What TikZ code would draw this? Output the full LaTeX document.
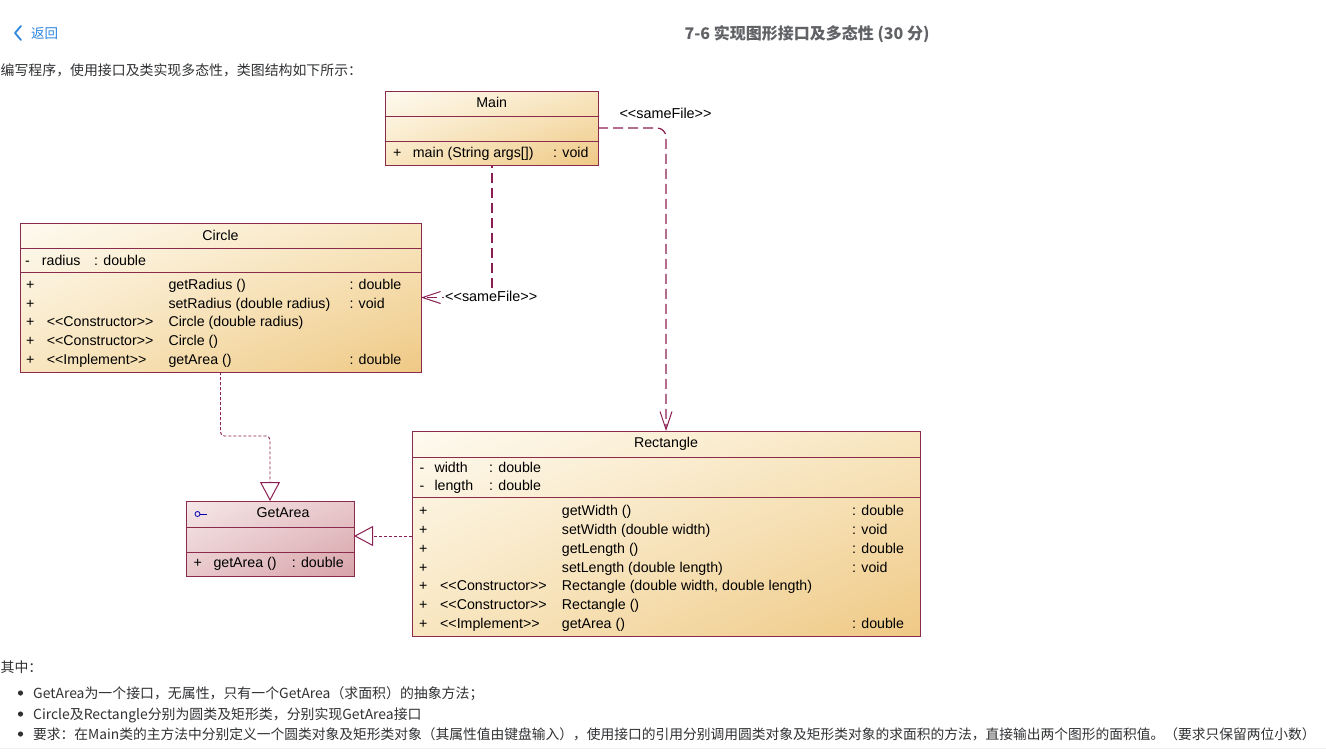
\documentclass[tikz,border=0pt]{standalone}
\usepackage{fontspec}
\setmainfont{Liberation Sans}
\newfontfamily\cjk{Noto Sans CJK SC}
\usetikzlibrary{arrows.meta,shadings}
\newcommand\stL{<{}<}
\newcommand\stR{>{}>}
\definecolor{umlborder}{HTML}{8A2B4B}
\definecolor{umlline}{HTML}{8B1F52}
\definecolor{creamA}{HTML}{FEFAF0}
\definecolor{creamM}{HTML}{F8E6C0}
\definecolor{tanB}{HTML}{EFC985}
\definecolor{pinkA}{HTML}{F5E7E8}
\definecolor{pinkM}{HTML}{E8C8CB}
\definecolor{pinkB}{HTML}{D7A3A9}
\definecolor{linkblue}{HTML}{2E86DE}
\definecolor{titlegray}{HTML}{606266}
\definecolor{bodytext}{HTML}{303133}
\tikzset{
  x=1pt, y=-1pt,
  classbox/.style={rectangle, draw=umlborder, line width=0.9pt, inner sep=0pt, outer sep=0pt,
     upper left=creamA, upper right=creamM, lower left=creamM, lower right=tanB},
  ifacebox/.style={rectangle, draw=umlborder, line width=0.9pt, inner sep=0pt, outer sep=0pt,
     upper left=pinkA, upper right=pinkM, lower left=pinkM, lower right=pinkB},
  sep/.style={draw=umlborder, line width=0.8pt},
  txt/.style={anchor=base west, inner sep=0pt, font=\fontsize{14.2}{16}\selectfont, text=black},
  ctxt/.style={anchor=base, inner sep=0pt, font=\fontsize{14.2}{16}\selectfont, text=black},
  samefile/.style={draw=umlline, line width=1.2pt, dash pattern=on 10pt off 5pt,
     -{Straight Barb[length=18pt,width=12pt,line width=1pt]}},
  realize/.style={draw=umlline, line width=0.9pt, dash pattern=on 3pt off 2pt,
     -{Triangle[open,length=19pt,width=20pt,line width=1pt,fill=white]}},
  cjktxt/.style={anchor=base west, inner sep=0pt, font=\cjk\fontsize{13.9}{16}\selectfont, text=bodytext},
}
\begin{document}
\begin{tikzpicture}
\useasboundingbox[fill=white] (0,0) rectangle (1326,753);

% ---------- page header ----------
\draw[linkblue, line width=1.8pt, line cap=round, line join=round] (21,26) -- (15,33) -- (21,40);
\node[anchor=base west, inner sep=0pt, font=\cjk\fontsize{13.5}{16}\selectfont, text=linkblue] (back) at (31,38) {返回};
\node[anchor=base, inner sep=0pt, font=\cjk\bfseries\fontsize{16}{18}\selectfont, text=titlegray] (title) at (807,39) {7-6 实现图形接口及多态性 (30 分)};
\node[cjktxt] (intro) at (0.5,75) {编写程序，使用接口及类实现多态性，类图结构如下所示：};

% ---------- Main ----------
\node[classbox, minimum width=213pt, minimum height=74pt] (main) at (491.5,128) {};
\draw[sep] (385,116) -- (598,116);
\draw[sep] (385,141) -- (598,141);
\node[ctxt] (mainT) at (491.7,107.7) {Main};
\node[txt] (m1a) at (393,157.7) {+};
\node[txt] (m1b) at (412.7,157.7) {main (String args[])};
\node[txt] (m1c) at (553,157.7) {: void};

% ---------- Circle ----------
\node[classbox, minimum width=401pt, minimum height=149pt] (circle) at (220.5,297.5) {};
\draw[sep] (20,248) -- (421,248);
\draw[sep] (20,272) -- (421,272);
\node[ctxt] (cT) at (220.5,240.7) {Circle};
\node[txt] (ca1) at (25,265) {-};
\node[txt] (ca2) at (41.7,265) {radius};
\node[txt] (ca3) at (94,265) {: double};
\foreach \yy/\st/\nm/\rt [count=\i] in {
  289/{}/{getRadius ()}/{: double},
  308/{}/{setRadius (double radius)}/{: void},
  326.8/{\stL Constructor\stR}/{Circle (double radius)}/{},
  345.6/{\stL Constructor\stR}/{Circle ()}/{},
  364.4/{\stL Implement\stR}/{getArea ()}/{: double}}{
  \node[txt] (cp\i) at (26,\yy) {+};
  \node[txt] (cs\i) at (46.7,\yy) {\st};
  \node[txt] (cn\i) at (168.3,\yy) {\nm};
  \node[txt] (cr\i) at (349.3,\yy) {\rt};
}

% ---------- GetArea ----------
\node[ifacebox, minimum width=168pt, minimum height=75pt] (getarea) at (270,538.5) {};
\draw[sep] (186,527) -- (354,527);
\draw[sep] (186,552) -- (354,552);
\node[draw=blue!70!black, circle, line width=0.8pt, minimum size=5pt, inner sep=0pt] (icon) at (197.5,514) {};
\draw[blue!70!black, line width=0.8pt] (icon.east) -- ++(7,0);
\node[ctxt] (gT) at (283,517.3) {GetArea};
\node[txt] (g1a) at (193.3,567.7) {+};
\node[txt] (g1b) at (213.3,567.7) {getArea ()};
\node[txt] (g1c) at (291.7,567.7) {: double};

% ---------- Rectangle ----------
\node[classbox, minimum width=508pt, minimum height=205pt] (rect) at (666,533.5) {};
\draw[sep] (412,457) -- (920,457);
\draw[sep] (412,497) -- (920,497);
\node[ctxt] (rT) at (666,447.7) {Rectangle};
\node[txt] (ra1) at (419.5,472) {-};
\node[txt] (ra2) at (434.3,472) {width};
\node[txt] (ra3) at (489,472) {: double};
\node[txt] (rb1) at (419.5,490.6) {-};
\node[txt] (rb2) at (434.3,490.6) {length};
\node[txt] (rb3) at (489,490.6) {: double};
\foreach \yy/\st/\nm/\rt [count=\i] in {
  515.5/{}/{getWidth ()}/{: double},
  534.3/{}/{setWidth (double width)}/{: void},
  553.2/{}/{getLength ()}/{: double},
  572/{}/{setLength (double length)}/{: void},
  590.9/{\stL Constructor\stR}/{Rectangle (double width, double length)}/{},
  609.8/{\stL Constructor\stR}/{Rectangle ()}/{},
  628.6/{\stL Implement\stR}/{getArea ()}/{: double}}{
  \node[txt] (rp\i) at (419,\yy) {+};
  \node[txt] (rs\i) at (440,\yy) {\st};
  \node[txt] (rn\i) at (561.7,\yy) {\nm};
  \node[txt] (rr\i) at (852,\yy) {\rt};
}

% ---------- connectors ----------
\draw[samefile, rounded corners=9pt] (main.east) -| (rect.north);
\draw[samefile, dash phase=-8pt] ([xshift=0.5pt]main.south) |- (circle.east);
\draw[realize, rounded corners=4pt] (circle.south) -- (circle.south |- 0,436) -- (getarea.north |- 0,436) -- (getarea.north);
\draw[realize] (rect.west |- 0,536) -- (getarea.east |- 0,536);

\node[txt, font=\fontsize{14.4}{16}\selectfont] (lbl1) at (619.3,118.3) {\stL sameFile\stR};
\node[txt, fill=white, inner sep=1pt, font=\fontsize{14.4}{16}\selectfont] (lbl2) at (444,301.7) {\stL sameFile\stR};

% ---------- footer text ----------
\node[cjktxt] (qz) at (0.5,672) {其中：};
\foreach \yy/\tt [count=\i] in {
  698/{GetArea为一个接口，无属性，只有一个GetArea（求面积）的抽象方法；},
  719/{Circle及Rectangle分别为圆类及矩形类，分别实现GetArea接口}}{
  \fill[bodytext] (20.5,\yy-5) circle (2.6pt);
  \node[cjktxt] (b\i) at (33,\yy) {\tt};
}
\fill[bodytext] (20.5,734) circle (2.6pt);
\node[cjktxt, font=\cjk\fontsize{13.75}{16}\selectfont] (b3) at (33,739) {要求：在Main类的主方法中分别定义一个圆类对象及矩形类对象（其属性值由键盘输入），使用接口的引用分别调用圆类对象及矩形类对象的求面积的方法，直接输出两个图形的面积值。（要求只保留两位小数）};
\draw[black!6, line width=1pt] (0,748) -- (1326,748);
\end{tikzpicture}
\end{document}
